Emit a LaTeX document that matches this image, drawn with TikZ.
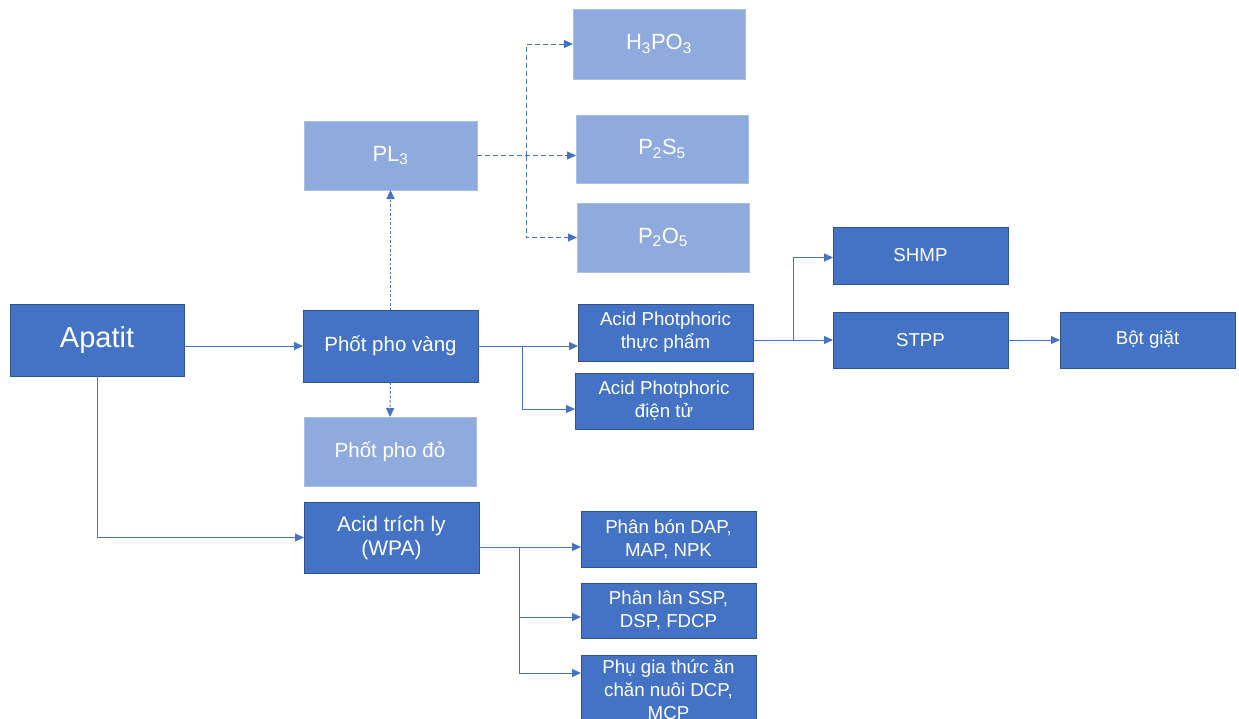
\documentclass[tikz,border=0pt]{standalone}
\usepackage{fontspec}
\setmainfont{Liberation Sans}
\usetikzlibrary{arrows.meta}
\definecolor{dk}{HTML}{4472C4}
\definecolor{dkb}{HTML}{2F528F}
\definecolor{lt}{HTML}{8FAADC}
\definecolor{ltb}{HTML}{A9BFE6}
\tikzset{
  box/.style={draw, line width=1pt, inner sep=0pt, outer sep=0pt, anchor=north west, text=white, align=center},
  dark/.style={box, fill=dk, draw=dkb},
  light/.style={box, fill=lt, draw=ltb},
  conn/.style={draw=dk, line width=1pt, -{Triangle[length=9pt,width=8pt]}},
  dsh/.style={conn, dash pattern=on 5pt off 3pt},
  dtt/.style={conn, dash pattern=on 2.5pt off 2pt},
  fbig/.style={font=\fontsize{29}{34}\selectfont},
  fmid/.style={font=\fontsize{20.5}{24}\selectfont},
  fchem/.style={font=\fontsize{22}{26}\selectfont},
  fsm/.style={font=\fontsize{18.7}{23}\selectfont},
}
\begin{document}
\begin{tikzpicture}[x=1pt,y=-1pt]
\useasboundingbox (0,0) rectangle (1239,718);
\clip (0,0) rectangle (1239,718);
\fill[white] (0,0) rectangle (1239,718);
% nodes
\node[dark, fbig, minimum width=174pt, minimum height=72pt] (apatit) at (10,304) {Apatit};
\node[dark, fmid, minimum width=175pt, minimum height=72pt] (vang) at (303,310) {Phốt pho vàng};
\node[light, fchem, minimum width=173pt, minimum height=69pt] (pl3) at (304,121) {PL\textsubscript{3}};
\node[light, fchem, minimum width=172pt, minimum height=70pt] (h3po3) at (573,9) {H\textsubscript{3}PO\textsubscript{3}};
\node[light, fchem, minimum width=172pt, minimum height=68pt] (p2s5) at (576,115) {P\textsubscript{2}S\textsubscript{5}};
\node[light, fchem, minimum width=172pt, minimum height=69pt] (p2o5) at (577,203) {P\textsubscript{2}O\textsubscript{5}};
\node[light, fmid, minimum width=172pt, minimum height=69pt] (do) at (304,417) {Phốt pho đỏ};
\node[dark, font=\fontsize{21}{24}\selectfont, minimum width=175pt, minimum height=71pt] (wpa) at (304,502) {Acid trích ly\\(WPA)};
\node[dark, fsm, minimum width=175pt, minimum height=57pt] (thucpham) at (578,304) {Acid Photphoric\\thực phẩm};
\node[dark, fsm, minimum width=178pt, minimum height=56pt] (dientu) at (575,373) {Acid Photphoric\\điện tử};
\node[dark, fsm, minimum width=175pt, minimum height=57pt] (shmp) at (833,227) {SHMP};
\node[dark, fsm, minimum width=175pt, minimum height=56pt] (stpp) at (833,312) {STPP};
\node[dark, fsm, minimum width=175pt, minimum height=56pt] (bot) at (1060,312) {Bột giặt};
\node[dark, fsm, minimum width=175pt, minimum height=56pt] (pb) at (581,511) {Phân bón DAP,\\MAP, NPK};
\node[dark, fsm, minimum width=175pt, minimum height=55pt] (pl) at (581,583) {Phân lân SSP,\\DSP, FDCP};
\node[dark, fsm, minimum width=175pt, minimum height=70pt] (pg) at (581,655) {Phụ gia thức ăn\\chăn nuôi DCP,\\MCP};
% connectors
\draw[conn] (apatit.east |- vang.west) -- (vang.west);
\draw[conn] (apatit.south) |- (wpa.west);
\draw[dtt] (vang.north) -- (pl3.south);
\draw[dtt] (vang.south) -- (do.north);
\draw[dsh] (pl3.east) -- (pl3.east -| p2s5.west);
\path (pl3.east) ++(49,0) coordinate (b2);
\draw[dsh] (b2) |- (h3po3.west);
\draw[dsh] (b2) |- (p2o5.west);
\draw[conn] (vang.east) -- (vang.east -| thucpham.west);
\path (vang.east) ++(44,0) coordinate (b1);
\draw[conn] (b1) |- ([yshift=-8pt]dientu.west);
\coordinate (t0) at (thucpham.east |- stpp.west);
\draw[conn] (t0) -- (stpp.west);
\path (t0) ++(40,0) coordinate (b3);
\draw[conn] (b3) |- ([yshift=-2pt]shmp.west);
\draw[conn] (stpp.east) -- (bot.west);
\path ([yshift=-9.5pt]wpa.east) coordinate (w0);
\draw[conn] (w0) -- (w0 -| pb.west);
\path (w0) ++(40,0) coordinate (b4);
\draw[conn] (b4) |- ([yshift=-6.5pt]pl.west);
\draw[conn] (b4) |- ([yshift=17pt]pg.west);
\end{tikzpicture}
\end{document}
